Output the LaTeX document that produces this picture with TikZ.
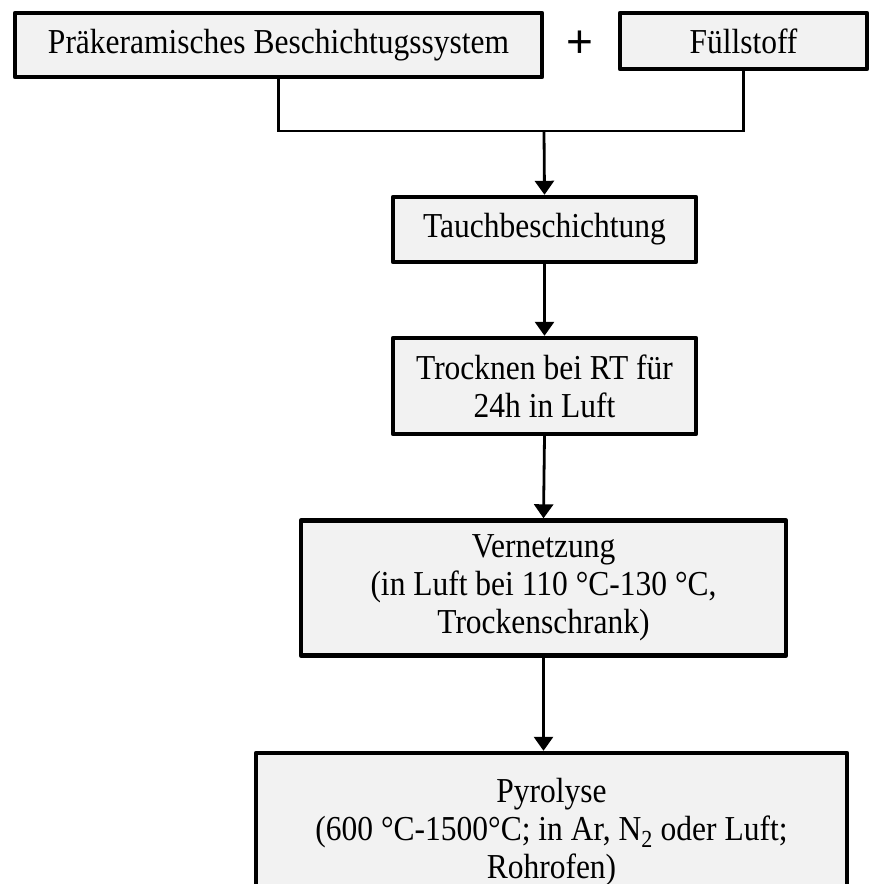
\documentclass[tikz,border=0pt]{standalone}
\usepackage{fontspec}
\setmainfont{Liberation Serif}[FakeStretch=0.9]
\newfontfamily\plusfont{Liberation Sans}
\usetikzlibrary{positioning, arrows.meta, calc}

\begin{document}
\begin{tikzpicture}[
  x=1pt, y=-1pt,
  font=\fontsize{35}{38}\selectfont,
  box/.style={draw, line width=4.4pt, line join=round, fill=black!5, align=center, inner sep=0pt},
  arr/.style={-{Triangle[length=14pt, width=19pt]}, line width=2.8pt},
  conn/.style={line width=2.8pt},
]
  \useasboundingbox (0,0) rectangle (871,884);
  \clip (0,0) rectangle (871,884);
  % starting materials
  \node[box, minimum width=527pt, minimum height=64pt] (pre)   at (278.5,45)  {Präkeramisches Beschichtugssystem};
  \node[box, minimum width=247pt, minimum height=56pt] (fuell) at (743.5,41)  {Füllstoff};
  \node[font=\fontsize{46}{46}\plusfont]               (plus)  at (580,44)    {+};
  % process chain
  \node[box, minimum width=303pt, minimum height=65pt]  (tauch) at (544.5,229.5) {Tauchbeschichtung};
  \node[box, minimum width=303pt, minimum height=96pt]  (trock) at (544.5,386)   {Trocknen bei RT für\\24h in Luft};
  \node[box, minimum width=485pt, minimum height=135pt] (vern)  at (543.5,588)   {Vernetzung\\(in Luft bei 110 °C-130 °C,\\Trockenschrank)};
  \node[box, minimum width=591pt, minimum height=150pt, text depth=0pt] (pyro) at (551.5,828) {Pyrolyse\\(600 °C-1500°C; in Ar, N\textsubscript{2} oder Luft;\\Rohrofen)};
  % joining the two inputs
  \coordinate (join) at (544,131);
  \draw[conn] (pre.south) |- (join);
  \draw[conn] (fuell.south) |- (join);
  \draw[arr] (join) -- (tauch.north);
  % chain arrows
  \foreach \a/\b in {tauch/trock, trock/vern} \draw[arr] (\a.south) -- (\b.north);
  \draw[arr] (vern.south) -- (vern.south |- pyro.north);
\end{tikzpicture}
\end{document}
